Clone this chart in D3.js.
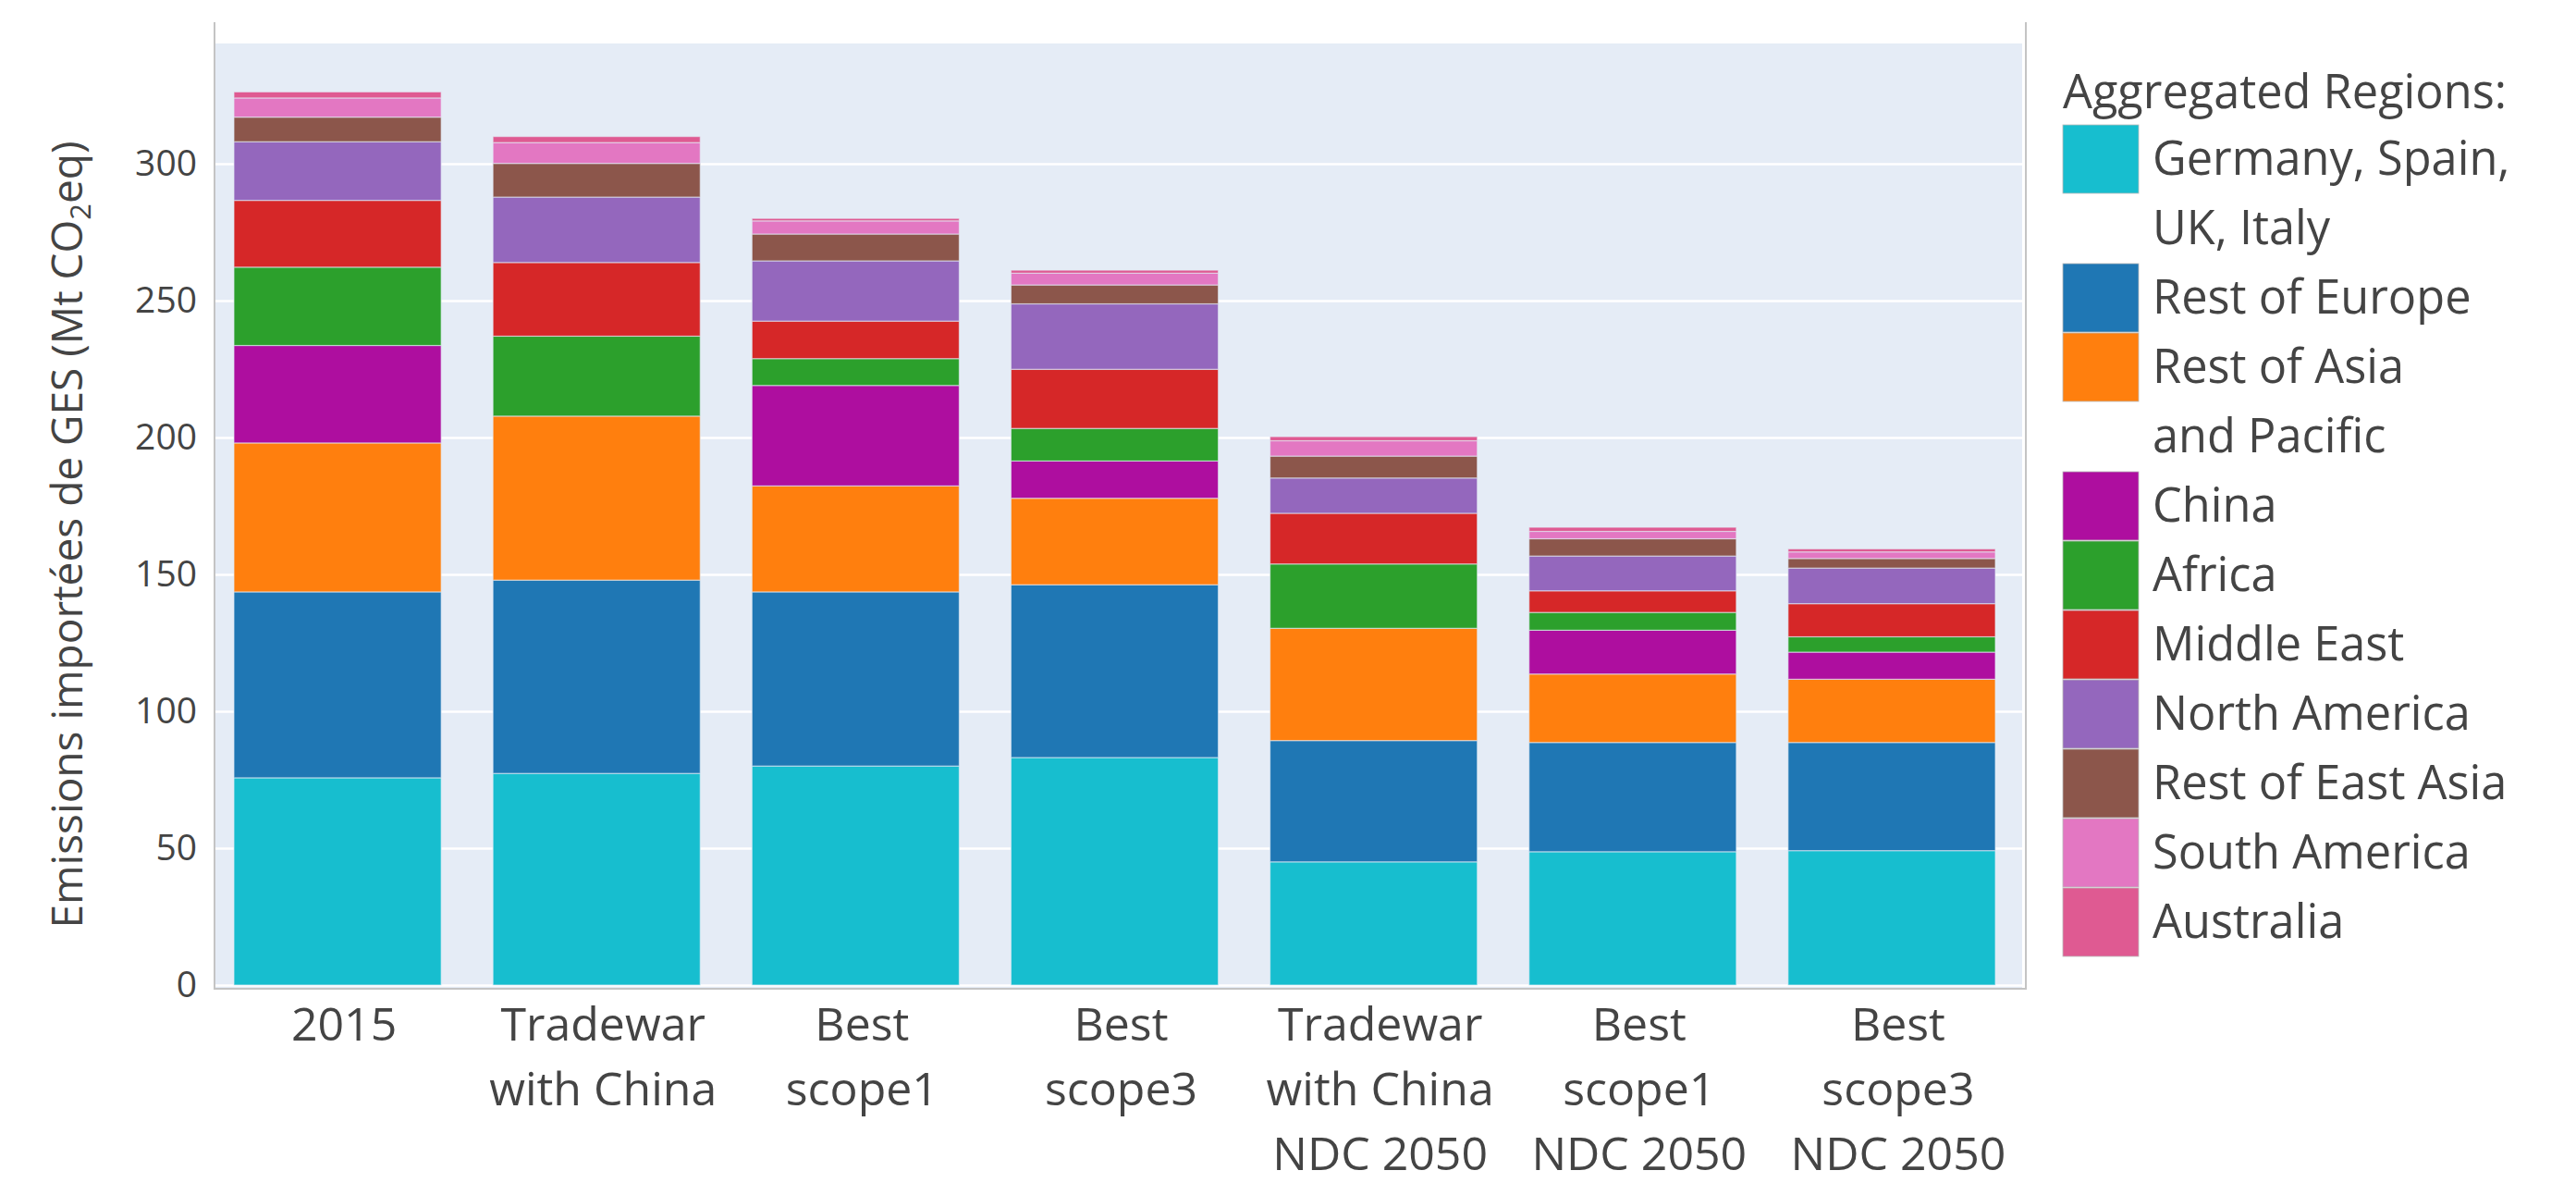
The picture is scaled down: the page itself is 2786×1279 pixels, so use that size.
<!DOCTYPE html>
<html>
<head>
<meta charset="utf-8">
<script src="https://cdn.jsdelivr.net/npm/d3@7"></script>
<style>
  body { margin: 0; background: #fff; }
  text { font-family: "Open Sans", sans-serif; fill: #444; }
</style>
</head>
<body>
<svg id="chart" width="2786" height="1279"></svg>
<script>
// Scenarios (x categories)
const scenarios = ["2015", "Tradewar with China", "Best scope1", "Best scope3",
  "Tradewar with China NDC 2050", "Best scope1 NDC 2050", "Best scope3 NDC 2050"];
const scenarioLabels = [
  ["2015"],
  ["Tradewar", "with China"],
  ["Best", "scope1"],
  ["Best", "scope3"],
  ["Tradewar", "with China", "NDC 2050"],
  ["Best", "scope1", "NDC 2050"],
  ["Best", "scope3", "NDC 2050"]
];

// Regions, stacked bottom to top
const regions = ["Germany, Spain, UK, Italy", "Rest of Europe", "Rest of Asia and Pacific",
  "China", "Africa", "Middle East", "North America", "Rest of East Asia",
  "South America", "Australia"];
const regionLabels = [
  ["Germany, Spain,", "UK, Italy"],
  ["Rest of Europe"],
  ["Rest of Asia", "and Pacific"],
  ["China"],
  ["Africa"],
  ["Middle East"],
  ["North America"],
  ["Rest of East Asia"],
  ["South America"],
  ["Australia"]
];
const regionColors = ["#17becf", "#1f77b4", "#ff7f0e", "#ae0e9f", "#2ca02c",
  "#d62728", "#9467bd", "#8c564b", "#e377c2", "#df5a92"];

// Imported GHG emissions (Mt CO2eq), one value per scenario
const germanySpainUkItaly = [75.7, 77.3, 80.0, 83.1, 45.0, 48.7, 49.1];
const restOfEurope        = [67.9, 70.6, 63.6, 63.1, 44.3, 39.9, 39.5];
const restOfAsiaPacific   = [54.4, 59.9, 38.7, 31.6, 41.0, 25.0, 23.1];
const china               = [35.6, 0, 36.7, 13.6, 0, 16.0, 9.9];
const africa              = [28.6, 29.2, 9.8, 11.9, 23.5, 6.5, 5.6];
const middleEast          = [24.4, 26.9, 13.7, 21.6, 18.5, 7.9, 12.1];
const northAmerica        = [21.4, 23.9, 22.0, 23.9, 12.9, 12.7, 13.0];
const restOfEastAsia      = [9.0, 12.3, 9.8, 6.9, 8.0, 6.3, 3.5];
const southAmerica        = [7.0, 7.6, 4.8, 4.3, 5.6, 2.7, 2.4];
const australia           = [2.2, 2.2, 0.9, 1.1, 1.5, 1.5, 1.1];

const series = [germanySpainUkItaly, restOfEurope, restOfAsiaPacific, china, africa,
  middleEast, northAmerica, restOfEastAsia, southAmerica, australia];

const yTicks = [0, 50, 100, 150, 200, 250, 300];

const svg = d3.select("#chart");

// plot frame
const plot = { left: 232, right: 2187, top: 47, bottom: 1069 };

const x = d3.scaleBand()
  .domain(scenarios)
  .range([225, 2186])
  .paddingInner(0.2)
  .paddingOuter(0.1);

const y = d3.scaleLinear()
  .domain([0, 343.9])
  .range([1065, plot.top]);

// background
svg.append("rect")
  .attr("x", plot.left)
  .attr("y", plot.top)
  .attr("width", plot.right - plot.left)
  .attr("height", plot.bottom - plot.top)
  .attr("fill", "#e5ecf6");

// gridlines
const grid = svg.append("g")
  .attr("transform", `translate(${plot.left},0)`)
  .call(d3.axisLeft(y).tickValues(yTicks).tickSize(-(plot.right - plot.left)).tickFormat(""));
grid.select(".domain").remove();
grid.selectAll(".tick line").attr("stroke", "#fff").attr("stroke-width", 2.5);

// stacked data
const rows = scenarios.map((s, i) => {
  const row = { scenario: s };
  regions.forEach((r, j) => { row[r] = series[j][i]; });
  return row;
});
const stacked = d3.stack().keys(regions)(rows);

svg.append("g")
  .selectAll("g")
  .data(stacked)
  .join("g")
  .attr("fill", (d, i) => regionColors[i])
  .selectAll("rect")
  .data(d => d)
  .join("rect")
  .attr("x", d => x(d.data.scenario))
  .attr("y", d => y(d[1]))
  .attr("width", x.bandwidth())
  .attr("height", d => y(d[0]) - y(d[1]))
  .attr("stroke", "#e5ecf6")
  .attr("stroke-opacity", 0.6)
  .attr("stroke-width", d => (d[1] - d[0]) > 0 ? 1.2 : 0);

// axis frame lines
const frame = svg.append("g").attr("stroke", "#c4c4c4").attr("stroke-width", 2).attr("fill", "none");
frame.append("path").attr("d", d3.line()([[plot.left, 24], [plot.left, plot.bottom], [2191, plot.bottom], [2191, 24]]));

// y axis labels
const yAxis = svg.append("g")
  .attr("transform", `translate(${plot.left},0)`)
  .call(d3.axisLeft(y).tickValues(yTicks).tickSize(0).tickPadding(19));
yAxis.select(".domain").remove();
yAxis.selectAll(".tick text")
  .attr("font-size", 39)
  .attr("font-family", "'Open Sans', sans-serif")
  .attr("fill", "#444");

// x axis labels
const xAxis = svg.append("g")
  .attr("transform", `translate(7,${plot.bottom})`)
  .call(d3.axisBottom(x).tickSize(0).tickFormat(""));
xAxis.select(".domain").remove();
xAxis.selectAll(".tick").each(function (d, i) {
  const t = d3.select(this).append("text")
    .attr("text-anchor", "middle")
    .attr("font-size", 50)
    .attr("fill", "#444");
  scenarioLabels[i].forEach((line, k) => {
    t.append("tspan").attr("x", 0).attr("y", 56 + k * 70).text(line);
  });
});

// y axis title
const yTitle = svg.append("text")
  .attr("transform", "translate(89,578) rotate(-90)")
  .attr("text-anchor", "middle")
  .attr("font-size", 46);
yTitle.append("tspan").text("Emissions importées de GES (Mt CO");
yTitle.append("tspan").attr("font-size", 31).attr("dy", 9).text("2");
yTitle.append("tspan").attr("dy", -9).text("eq)");

// legend
const legend = svg.append("g").attr("transform", "translate(2231,0)");
legend.append("text")
  .attr("x", 0)
  .attr("y", 117)
  .attr("font-size", 50.5)
  .text("Aggregated Regions:");

let rowTop = 135;
const lineH = 75;
regions.forEach((r, i) => {
  legend.append("rect")
    .attr("x", 0)
    .attr("y", rowTop)
    .attr("width", 82)
    .attr("height", 74)
    .attr("fill", regionColors[i])
    .attr("stroke", "#bbb")
    .attr("stroke-width", 0.8);
  regionLabels[i].forEach((line, k) => {
    legend.append("text")
      .attr("x", 97)
      .attr("y", rowTop + 54 + k * lineH)
      .attr("font-size", 50.5)
      .text(line);
  });
  rowTop += lineH * regionLabels[i].length;
});
</script>
</body>
</html>
